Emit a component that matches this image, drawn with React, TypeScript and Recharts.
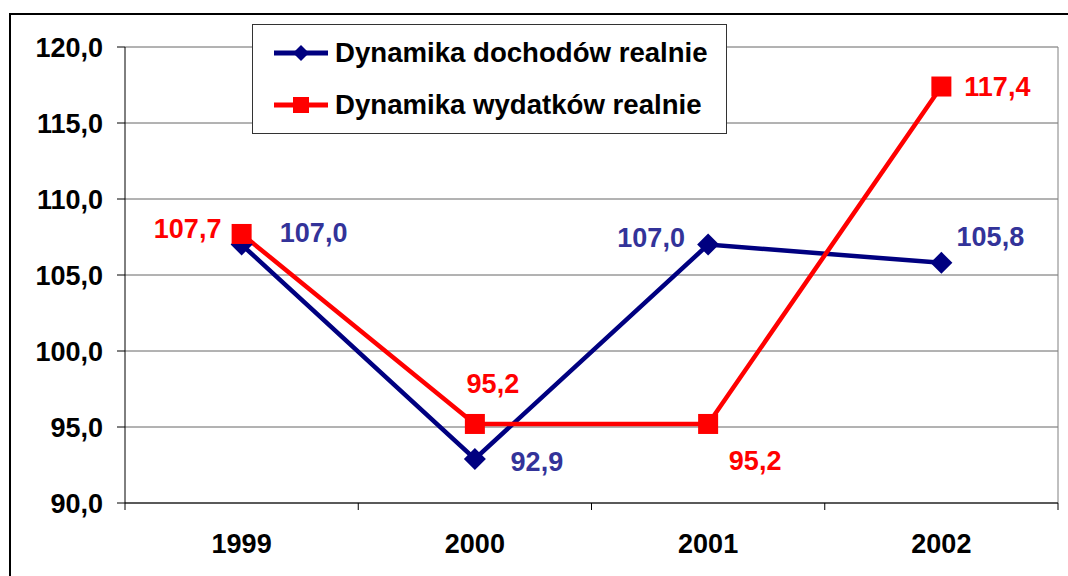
import { LineChart, Line, XAxis, YAxis, CartesianGrid, ReferenceLine, LabelList } from 'recharts';

const years = ['1999', '2000', '2001', '2002'];
const dochody = [107.0, 92.9, 107.0, 105.8];
const wydatki = [107.7, 95.2, 95.2, 117.4];
const yTicks = [90, 95, 100, 105, 110, 115, 120];

const W = 1068;
const H = 576;
const PLOT_LEFT = 125;
const PLOT_RIGHT = 1058;
const HALF_BAND = (PLOT_RIGHT - PLOT_LEFT) / years.length / 2;

const NAVY = '#000080';
const RED = '#FF0000';
const BLUE_LABEL = '#333399';
const FONT = '"Liberation Sans", Arial, sans-serif';

// label placement around each point (dx, dy from the marker)
const blueLabelPos = [[72, -12], [62, 3], [-57, -7], [49, -26]];
const redLabelPos = [[-54, -5], [18, -40], [47, 37], [56, 0]];

const data = years.map((year, i) => ({ x: i, year, dochody: dochody[i], wydatki: wydatki[i] }));
const fmt = (v: number) => v.toFixed(1).replace('.', ',');

const Diamond = ({ cx, cy, r = 10, fill }: any) => {
  if (cx == null || cy == null) return null;
  return <path d={`M${cx},${cy - r} L${cx + r},${cy} L${cx},${cy + r} L${cx - r},${cy} Z`} fill={fill} />;
};

const Square = ({ cx, cy, r = 10, fill }: any) => {
  if (cx == null || cy == null) return null;
  return <rect x={cx - r} y={cy - r} width={r * 2} height={r * 2} fill={fill} />;
};

const makeLabel = (pos: number[][], color: string) => (props: any) => {
  const { x, y, value, index } = props;
  const [dx, dy] = pos[index] || [0, 0];
  return (
    <text x={x + dx} y={y + dy} textAnchor="middle" dominantBaseline="central" fill={color}
      fontSize={27} fontWeight="bold" fontFamily={FONT}>
      {fmt(value)}
    </text>
  );
};

const YearTick = ({ x, y, payload }: any) => {
  const idx = payload.value + 0.5;
  const label = years[idx];
  if (!label) return null;
  return (
    <text x={x + HALF_BAND} y={y} dy="0.71em" textAnchor="middle" fill="#000" fontSize={27} fontWeight="bold" fontFamily={FONT}>
      {label}
    </text>
  );
};

function ChartLegend() {
  const row = (marker: React.ReactNode, color: string, text: string) => (
    <div style={{ display: 'flex', alignItems: 'center', height: 52 }}>
      <svg width={54} height={24} style={{ marginLeft: 21, marginRight: 7 }}>
        <line x1={0} y1={12} x2={54} y2={12} stroke={color} strokeWidth={5} />
        {marker}
      </svg>
      <span style={{ fontFamily: FONT, fontWeight: 'bold', fontSize: 27.6, color: '#000', whiteSpace: 'nowrap' }}>{text}</span>
    </div>
  );
  return (
    <div style={{
      position: 'absolute', left: 252, top: 24, width: 475, height: 110, boxSizing: 'border-box',
      border: '1px solid #333', background: '#fff', paddingTop: 2,
    }}>
      {row(<Diamond cx={27} cy={12} r={8} fill={NAVY} />, NAVY, 'Dynamika dochodów realnie')}
      {row(<Square cx={27} cy={12} r={8} fill={RED} />, RED, 'Dynamika wydatków realnie')}
    </div>
  );
}

export default function App() {
  return (
    <div style={{ position: 'absolute', left: 0, top: 0, width: W, height: H, overflow: 'hidden', background: '#fff' }}>
      <div style={{ position: 'absolute', left: 9, top: 13, width: 1100, height: 620, border: '2px solid #000' }} />
      <div style={{ position: 'absolute', left: 0, top: 0 }}>
        <LineChart width={W} height={H} data={data} margin={{ top: 47, right: W - PLOT_RIGHT, bottom: 0, left: 0 }}>
          <CartesianGrid horizontal vertical={false} stroke="#666" />
          <XAxis
            type="number"
            dataKey="x"
            domain={[-0.5, 3.5]}
            ticks={[-0.5, 0.5, 1.5, 2.5, 3.5]}
            height={H - 503}
            tickSize={7}
            tickMargin={24}
            tick={<YearTick />}
            tickLine={{ stroke: '#000' }}
            axisLine={{ stroke: '#000' }}
          />
          <YAxis
            type="number"
            domain={[90, 120]}
            ticks={yTicks}
            width={PLOT_LEFT}
            tickSize={8}
            tickMargin={14}
            tickFormatter={fmt}
            tick={{ fill: '#000', fontSize: 27, fontWeight: 'bold', fontFamily: FONT }}
            tickLine={{ stroke: '#000' }}
            axisLine={{ stroke: '#000' }}
          />
          <ReferenceLine x={3.5} stroke="#808080" />
          <Line
            type="linear"
            dataKey="dochody"
            stroke={NAVY}
            strokeWidth={4.5}
            dot={<Diamond fill={NAVY} r={11} />}
            activeDot={false}
            isAnimationActive={false}
          >
            <LabelList dataKey="dochody" content={makeLabel(blueLabelPos, BLUE_LABEL)} />
          </Line>
          <Line
            type="linear"
            dataKey="wydatki"
            stroke={RED}
            strokeWidth={4.5}
            dot={<Square fill={RED} r={10} />}
            activeDot={false}
            isAnimationActive={false}
          >
            <LabelList dataKey="wydatki" content={makeLabel(redLabelPos, RED)} />
          </Line>
        </LineChart>
      </div>
      <ChartLegend />
    </div>
  );
}
